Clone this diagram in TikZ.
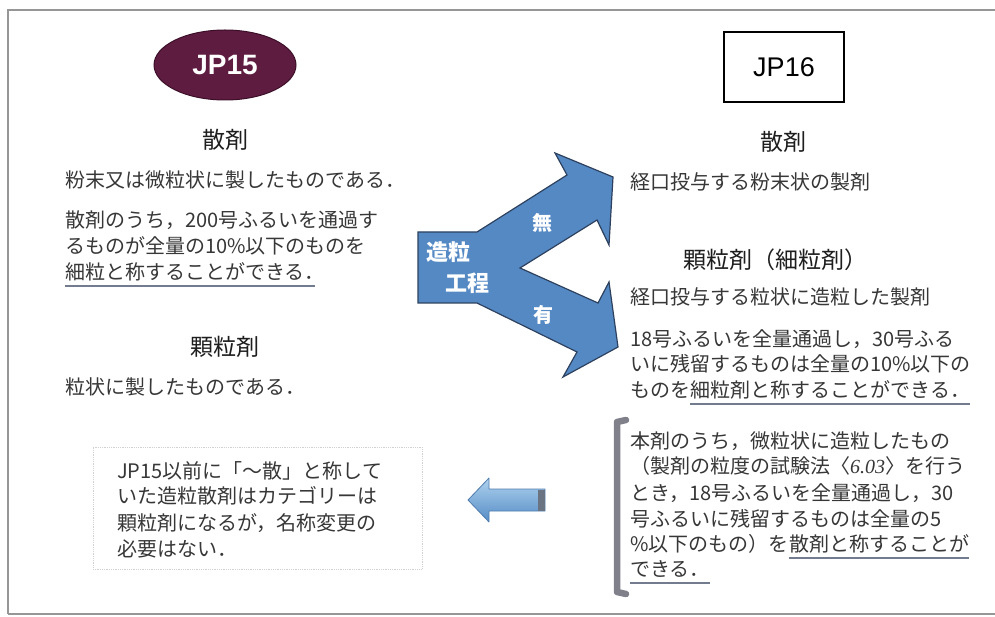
\documentclass[tikz,border=0pt]{standalone}
\usepackage{fontspec}
\usetikzlibrary{shapes.geometric}
\newfontfamily\jp{Noto Sans CJK JP}
\newfontfamily\arial{Liberation Sans}
\newfontfamily\serifit{Liberation Serif}
\definecolor{maroon}{RGB}{95,28,65}
\definecolor{maroondark}{RGB}{60,15,40}
\definecolor{arrowblue}{RGB}{84,137,196}
\definecolor{arrowline}{RGB}{45,65,95}
\definecolor{latop}{RGB}{175,210,238}
\definecolor{labot}{RGB}{85,140,198}
\definecolor{laline}{RGB}{80,125,175}
\definecolor{laband}{RGB}{105,115,130}
\definecolor{bodygray}{RGB}{55,55,55}
\definecolor{headgray}{RGB}{30,30,30}
\definecolor{ulcolor}{RGB}{115,124,142}
\definecolor{brk}{RGB}{128,128,138}
\definecolor{framegray}{RGB}{150,150,150}
\tikzset{
  body/.style={anchor=base west, inner sep=0pt, font={\jp\fontsize{20}{24}\selectfont}, text=bodygray},
  head/.style={inner sep=0pt, font={\jp\fontsize{23}{27}\selectfont}, text=headgray},
  wlabel/.style={inner sep=0pt, font={\jp\bfseries\fontsize{22}{26}\selectfont}, text=white},
  uline/.style={draw=ulcolor, line width=1.8pt},
  framest/.style={draw=framegray, line width=1.1pt},
  notebox/.style={draw=black!18, densely dotted, line width=0.8pt, inner sep=0pt},
  splitarrow/.style={fill=arrowblue, draw=arrowline, line width=1.2pt, line join=miter},
}
\begin{document}
\begin{tikzpicture}[x=1pt,y=-1pt]
\useasboundingbox (0,0) rectangle (995,617);
\fill[white] (0,0) rectangle (995,617);
% outer frame
\draw[framest] (8,614) -- (8,10) -- (995,10);
\draw[framest] (8,614) -- (995,614);

% JP15 / JP16
\node[ellipse, fill=maroon, draw=maroondark, line width=1pt, minimum width=142pt, minimum height=70pt, inner sep=0pt,
      font={\arial\bfseries\fontsize{28}{30}\selectfont}, text=white] (jp15) at (225,65) {JP15};
\node[draw=black, line width=1.3pt, minimum width=120pt, minimum height=70pt, inner sep=0pt,
      font={\arial\fontsize{27}{30}\selectfont}] (jp16) at (784,67) {JP16};

% left column
\node[head] (h15a) at (225,140) {散剤};
\node[body] (l1) at (65,188) {粉末又は微粒状に製したものである．};
\node[body] (l2) at (65,228) {散剤のうち，200号ふるいを通過す};
\node[body] (l3) at (65,254) {るものが全量の10\%以下のものを};
\node[body] (l4) at (65,280) {細粒と称することができる．};
\draw[uline] ([yshift=-6pt]l4.base west) -- ([yshift=-6pt,xshift=-10pt]l4.base east);
\node[head] (h15b) at (225,347) {顆粒剤};
\node[body] (l5) at (65,394) {粒状に製したものである．};

% note box bottom left
\node[notebox, minimum width=329pt, minimum height=122pt] (note) at (257.5,508) {};
\node[body] (n1) at (117,478) {JP15以前に「～散」と称して};
\node[body] (n2) at (117,503) {いた造粒散剤はカテゴリーは};
\node[body] (n3) at (117,530) {顆粒剤になるが，名称変更の};
\node[body] (n4) at (117,556) {必要はない．};

% split arrow
\draw[splitarrow] (418,232) -- (477,232) -- (567,175) -- (555,153) -- (613,177) -- (609,245)
  -- (597,220) -- (520,268) -- (598,303) -- (609,282) -- (618,347) -- (563,377)
  -- (577,352) -- (477,303) -- (418,303) -- cycle;
\node[wlabel] (zo) at (448,252) {造粒};
\node[wlabel] (ko) at (467,283) {工程};
\node[wlabel, font={\jp\bfseries\fontsize{20}{24}\selectfont}] (mu) at (542,223) {無};
\node[wlabel, font={\jp\bfseries\fontsize{20}{24}\selectfont}] (yu) at (543,315) {有};

% left pointing arrow
\shade[top color=latop, bottom color=labot, draw=laline, line width=0.8pt, line join=round]
  (468,500) -- (489,478) -- (489,489) -- (545,489) -- (545,511) -- (489,511) -- (489,522) -- cycle;
\fill[laband] (538,489.5) rectangle (545,510.5);

% right column
\node[head] (h16a) at (783,142) {散剤};
\node[body] (r1) at (630,190) {経口投与する粉末状の製剤};
\node[head] (h16b) at (775,260) {顆粒剤（細粒剤）};
\node[body] (r2) at (630,305) {経口投与する粒状に造粒した製剤};
\node[body] (r3) at (630,346) {18号ふるいを全量通過し，30号ふる};
\node[body] (r4) at (630,371) {いに残留するものは全量の10\%以下の};
\node[body] (r5a) at (630,397) {ものを};
\node[body] (r5b) at (r5a.base east) {細粒剤と称することができる．};
\draw[uline] ([yshift=-7pt]r5b.base west) -- ([yshift=-7pt]r5b.base east);

% bracket block
\draw[draw=brk, line width=6.5pt, line cap=round, line join=round] (626,420) -- (617,422) -- (617,592) -- (626,594);
\node[body] (b1) at (630,448) {本剤のうち，微粒状に造粒したもの};
\node[body] (b2) at (630,473) {（製剤の粒度の試験法〈{\serifit\itshape 6.03}〉を行う};
\node[body] (b3) at (630,500) {とき，18号ふるいを全量通過し，30};
\node[body] (b4) at (630,526) {号ふるいに残留するものは全量の5};
\node[body] (b5a) at (630,551) {\%以下のもの）を};
\node[body] (b5b) at (b5a.base east) {散剤と称することが};
\draw[uline] ([yshift=-7pt]b5b.base west) -- ([yshift=-7pt]b5b.base east);
\node[body] (b6) at (630,576) {できる．};
\draw[uline] ([yshift=-7pt]b6.base west) -- ([yshift=-7pt]b6.base east);
\end{tikzpicture}
\end{document}
